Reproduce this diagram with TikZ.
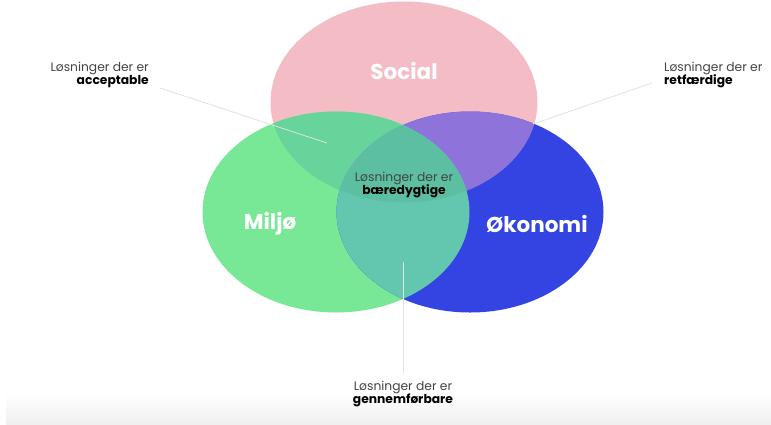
\documentclass[tikz,border=0pt]{standalone}
\usepackage{fontspec}
\setmainfont{Poppins}
\definecolor{pinkc}{HTML}{F4BDC6}
\definecolor{greenc}{HTML}{78E897}
\definecolor{bluec}{HTML}{3344E3}
\definecolor{pgc}{HTML}{66D49B}
\definecolor{pbc}{HTML}{8E73DA}
\definecolor{gbc}{HTML}{63C7B0}
\definecolor{allc}{HTML}{5CBFA2}
\definecolor{labelgray}{HTML}{444444}
\definecolor{linegray}{HTML}{E2E2E2}
\tikzset{
  bigname/.style={text=white,font=\bfseries\fontsize{21.5}{24}\selectfont},
  smalllabel/.style={font=\fontsize{12.3}{13.5}\selectfont,text=labelgray,inner sep=0pt},
  leader/.style={draw=linegray,line width=0.8pt}
}
\newcommand{\lbl}[1]{Løsninger der er\\\textcolor{black}{\bfseries #1}}
\begin{document}
\begin{tikzpicture}[x=1pt,y=-1pt]
\useasboundingbox (0,0) rectangle (771,424);
\fill[white] (0,0) rectangle (771,424);
\shade[top color=white,bottom color=black!6] (6,392) rectangle (771,424);
% circles
\coordinate (cs) at (404,102);
\coordinate (cg) at (336,212);
\coordinate (cb) at (470,212);
\def\rx{133.5}
\def\ry{100.5}
\fill[pinkc] (cs) ellipse [x radius=\rx,y radius=\ry];
\fill[greenc] (cg) ellipse [x radius=\rx,y radius=\ry];
\fill[bluec] (cb) ellipse [x radius=\rx,y radius=\ry];
\begin{scope}
  \clip (cs) ellipse [x radius=\rx,y radius=\ry];
  \fill[pgc] (cg) ellipse [x radius=\rx,y radius=\ry];
  \fill[pbc] (cb) ellipse [x radius=\rx,y radius=\ry];
\end{scope}
\begin{scope}
  \clip (cg) ellipse [x radius=\rx,y radius=\ry];
  \fill[gbc] (cb) ellipse [x radius=\rx,y radius=\ry];
  \clip (cb) ellipse [x radius=\rx,y radius=\ry];
  \fill[allc] (cs) ellipse [x radius=\rx,y radius=\ry];
\end{scope}
% names
\node[bigname] (social) at (404,71) {Social};
\node[bigname] (miljo) at (270,224) {Miljø};
\node[bigname] (okonomi) at (537,224) {Økonomi};
% labels
\node[smalllabel,align=right,anchor=east] (acc) at (149,75) {\lbl{acceptable}};
\node[smalllabel,align=left,anchor=west] (ret) at (664,75) {\lbl{retfærdige}};
\node[smalllabel,align=center] (baer) at (404,185) {\lbl{bæredygtige}};
\node[smalllabel,align=center] (gen) at (403,394) {\lbl{gennemførbare}};
% leaders
\coordinate (accend) at (327,143);
\coordinate (retend) at (533,124);
\coordinate (gentop) at (403,262);
\draw[leader] (acc.east) ++(11,13) -- (accend);
\draw[leader] (ret.west) ++(-12,8) -- (retend);
\draw[leader] (gen.north) ++(0,-8) -- (gentop);
\end{tikzpicture}
\end{document}
